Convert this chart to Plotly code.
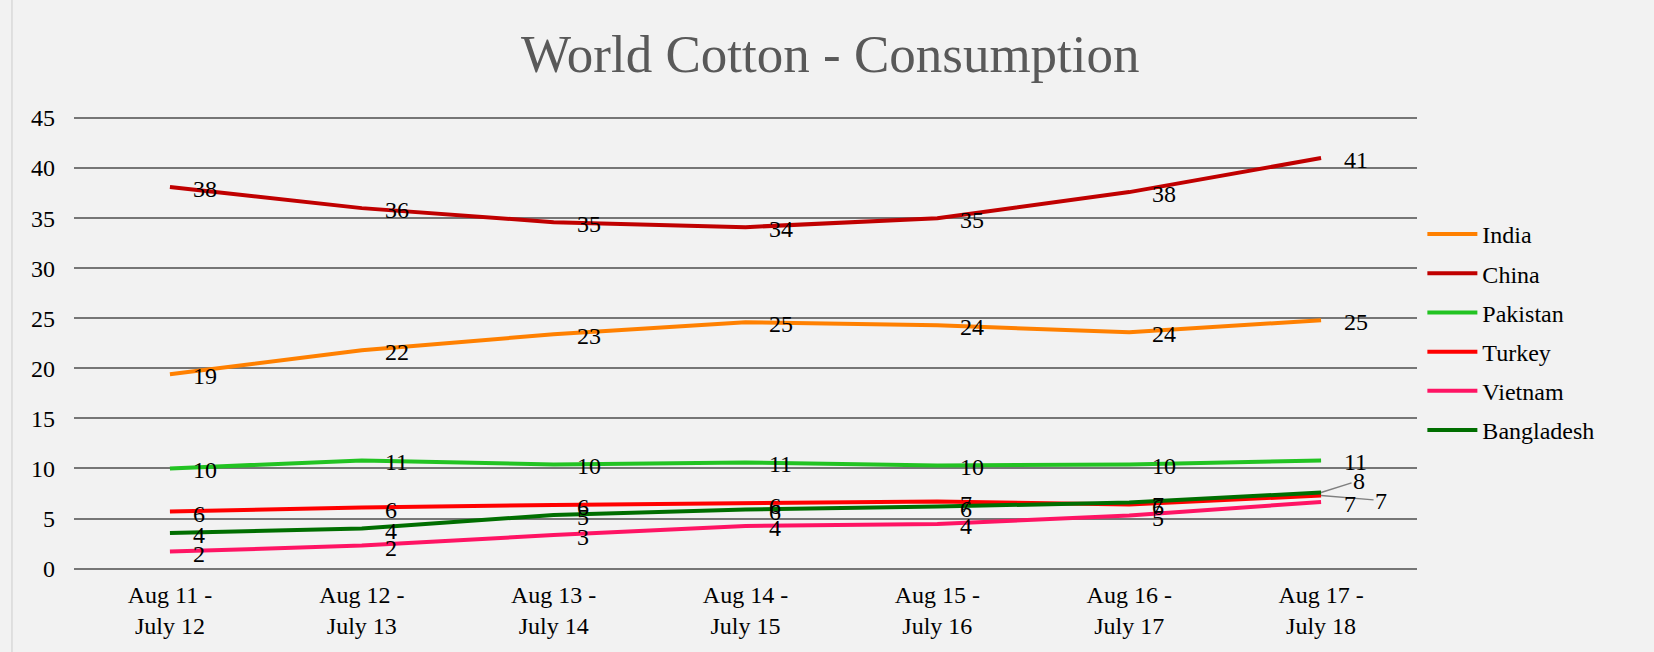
import plotly.graph_objects as go

# categories and series
seasons = ["Aug 11 -<br>July 12", "Aug 12 -<br>July 13", "Aug 13 -<br>July 14",
           "Aug 14 -<br>July 15", "Aug 15 -<br>July 16", "Aug 16 -<br>July 17",
           "Aug 17 -<br>July 18"]
india = [19.4, 21.8, 23.4, 24.6, 24.3, 23.6, 24.8]
china = [38.1, 36.0, 34.6, 34.1, 35.0, 37.6, 41.0]
pakistan = [10.0, 10.8, 10.4, 10.6, 10.3, 10.4, 10.8]
turkey = [5.7, 6.1, 6.35, 6.5, 6.7, 6.4, 7.3]
vietnam = [1.7, 2.3, 3.35, 4.25, 4.45, 5.3, 6.65]
bangladesh = [3.55, 4.0, 5.35, 5.9, 6.2, 6.6, 7.6]

series = [
    ("India", india, "#ff8000"),
    ("China", china, "#c00000"),
    ("Pakistan", pakistan, "#22c322"),
    ("Turkey", turkey, "#ff0000"),
    ("Vietnam", vietnam, "#ff1464"),
    ("Bangladesh", bangladesh, "#006e00"),
]

FONT = "Times New Roman, Liberation Serif, serif"

fig = go.Figure()
for name, vals, color in series:
    fig.add_trace(go.Scatter(
        x=seasons, y=vals, name=name, mode="lines",
        line=dict(color=color, width=4), legendgroup=name,
    ))

# data labels (last point of Bangladesh / Turkey get leader lines)
annotations = []
last = len(seasons) - 1
for name, vals, color in series:
    for i, v in enumerate(vals):
        txt = f"{v:.0f}"
        if i == last and name == "Bangladesh":
            annotations.append(dict(x=seasons[i], y=v, text=txt, showarrow=True,
                                    arrowhead=0, arrowcolor="#7f7f7f", arrowwidth=1.5,
                                    ax=38, ay=-12, xanchor="center", yanchor="middle"))
        elif i == last and name == "Turkey":
            annotations.append(dict(x=seasons[i], y=v, text=txt, showarrow=True,
                                    arrowhead=0, arrowcolor="#7f7f7f", arrowwidth=1.5,
                                    ax=60, ay=5, xanchor="center", yanchor="middle"))
        else:
            annotations.append(dict(x=seasons[i], y=v, text=txt, showarrow=False,
                                    xanchor="left", yanchor="middle", xshift=21, yshift=-2))

fig.update_layout(
    annotations=annotations,
    width=1654, height=652,
    paper_bgcolor="#f2f2f2", plot_bgcolor="#f2f2f2",
    font=dict(family=FONT, size=24, color="#000000"),
    title=dict(text="World Cotton - Consumption", x=0.502, xanchor="center",
               y=0.918, yanchor="middle",
               font=dict(family=FONT, size=53, color="#595959")),
    margin=dict(l=74, r=237, t=115, b=83),
    xaxis=dict(showgrid=False, showline=False, ticks="", zeroline=False,
               range=[-0.5, 6.5], tickfont=dict(size=24), ticklabelstandoff=9),
    yaxis=dict(range=[-0.04, 45.3], tickvals=list(range(0, 50, 5)), showgrid=True,
               gridcolor="#767676", gridwidth=1.5, zeroline=True,
               zerolinecolor="#767676", zerolinewidth=1.5, showline=False, ticks="",
               ticklabelstandoff=18, tickfont=dict(size=24)),
    legend=dict(x=1.004, y=0.521, xanchor="left", yanchor="middle",
                font=dict(size=24), tracegroupgap=5, itemwidth=50,
                bgcolor="rgba(0,0,0,0)"),
    shapes=[dict(type="rect", xref="paper", yref="paper", x0=-0.0462, x1=1.3,
                 y0=-0.5, y1=1.255, line=dict(color="#d9d9d9", width=1.5),
                 fillcolor="rgba(0,0,0,0)", layer="below")],
    showlegend=True,
)

fig.write_html("out.html", config={"displayModeBar": False},
               post_script="document.body.style.margin = '0';")
